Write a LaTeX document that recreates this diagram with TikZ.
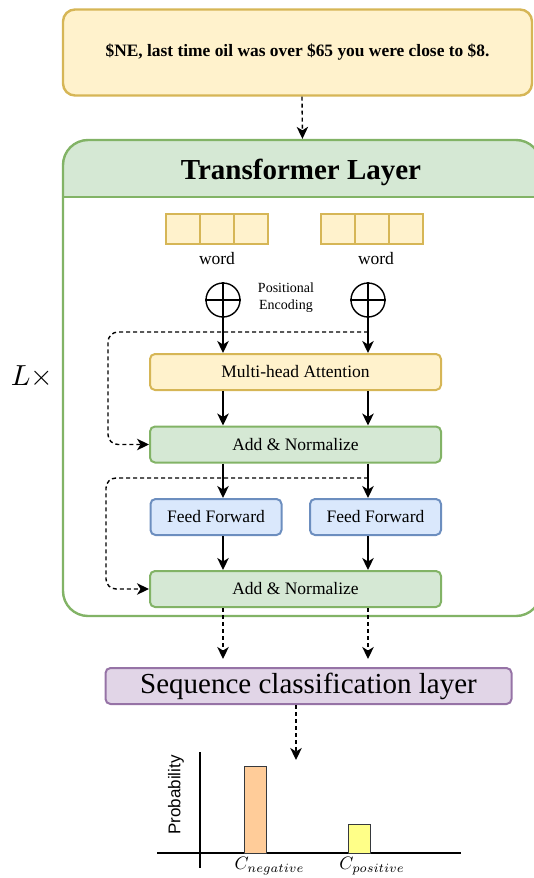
\documentclass[tikz,border=0pt]{standalone}
\usepackage{graphicx}
\usepackage{fontspec}
\setmainfont{Liberation Serif}
\newfontfamily\chartfont{Liberation Sans}
\usetikzlibrary{arrows.meta}

\definecolor{yelfill}{HTML}{FFF2CC}
\definecolor{yelline}{HTML}{D6B656}
\definecolor{grnfill}{HTML}{D5E8D4}
\definecolor{grnline}{HTML}{82B366}
\definecolor{blufill}{HTML}{DAE8FC}
\definecolor{bluline}{HTML}{6C8EBF}
\definecolor{purfill}{HTML}{E1D5E7}
\definecolor{purline}{HTML}{9673A6}
\definecolor{barline}{HTML}{36393D}
\definecolor{negfill}{HTML}{FFCC99}
\definecolor{posfill}{HTML}{FFFF88}

\tikzset{
  box/.style={draw, rounded corners=5pt, line width=2pt, minimum height=36pt,
    inner sep=0pt, font=\fontsize{17.5}{20}\selectfont},
  yelbox/.style={box, fill=yelfill, draw=yelline},
  grnbox/.style={box, fill=grnfill, draw=grnline},
  blubox/.style={box, fill=blufill, draw=bluline},
  cell/.style={draw=yelline, fill=yelfill, line width=1.3pt, minimum width=34pt,
    minimum height=30pt, inner sep=0pt},
  arr/.style={-{Stealth[length=12pt, width=11.5pt, inset=3.5pt]}, line width=1.4pt},
  dasharr/.style={arr, dash pattern=on 4pt off 3pt},
  resid/.style={dasharr, rounded corners=10pt},
}

\begin{document}
\begin{tikzpicture}[x=1pt, y=-1pt]
  \useasboundingbox (0,0) rectangle (534,878);

  % input sentence
  \node[draw=yelline, fill=yelfill, line width=2.4pt, rounded corners=12pt,
    minimum width=469pt, minimum height=86pt, font=\fontsize{17.4}{20}\selectfont\bfseries]
    (sent) at (297.5,52.5) {\$NE, last time oil was over \$65 you were close to \$8.};

  % transformer layer frame with its header
  \begin{scope}
    \clip[rounded corners=25pt] (63,140) rectangle (541,616);
    \fill[grnfill] (63,140) rectangle (541,197);
  \end{scope}
  \node[draw=grnline, line width=2.4pt, rounded corners=25pt, minimum width=478pt,
    minimum height=476pt] (layer) at (302,378) {};
  \draw[grnline, line width=2.4pt] (layer.west |- 0,197) -- (layer.east |- 0,197);
  \node[font=\fontsize{29}{30}\selectfont\bfseries] (title) at (301,172) {Transformer Layer};
  \node (rep) at (32,377) {\scalebox{2.9}{$L\times$}};

  % word vectors
  \node[cell] (wl1) at (183,229) {};
  \node[cell] (wl2) at (217,229) {};
  \node[cell] (wl3) at (251,229) {};
  \node[cell] (wr1) at (338,229) {};
  \node[cell] (wr2) at (372,229) {};
  \node[cell] (wr3) at (406,229) {};
  \node[font=\fontsize{17.5}{20}\selectfont] (wordl) at (217,259) {word};
  \node[font=\fontsize{17.5}{20}\selectfont] (wordr) at (376,259) {word};

  % positional encoding
  \node[circle, draw, line width=1.4pt, minimum size=34pt, inner sep=0pt] (pe1) at (223,300) {};
  \node[circle, draw, line width=1.4pt, minimum size=34pt, inner sep=0pt] (pe2) at (368,300) {};
  \draw[line width=1.4pt] (pe1.north) -- (pe1.south) (pe1.west) -- (pe1.east);
  \draw[line width=1.4pt] (pe2.north) -- (pe2.south) (pe2.west) -- (pe2.east);
  \node[align=center, font=\fontsize{14}{17}\selectfont] (posenc) at (286,298) {Positional\\Encoding};

  % encoder blocks
  \node[yelbox, minimum width=291pt] (mha) at (295.5,372) {Multi-head Attention};
  \node[grnbox, minimum width=291pt] (an1) at (295.5,444.5) {Add \& Normalize};
  \node[blubox, minimum width=131pt] (ff1) at (216,517) {Feed Forward};
  \node[blubox, minimum width=131pt] (ff2) at (375.5,517) {Feed Forward};
  \node[grnbox, minimum width=291pt] (an2) at (295.5,589) {Add \& Normalize};

  % classifier
  \node[draw=purline, fill=purfill, line width=2pt, rounded corners=5pt, inner sep=0pt,
    minimum width=406pt, minimum height=36pt, font=\fontsize{29}{30}\selectfont]
    (seq) at (308.5,686) {Sequence classification layer};

  % flow
  \draw[dasharr] ([xshift=4.5pt]sent.south) -- ([xshift=0.5pt]layer.north);
  \draw[arr] (pe1.south) -- (pe1 |- mha.north);
  \draw[arr] (pe2.south) -- (pe2 |- mha.north);
  \draw[arr] (mha.south -| pe1) -- (an1.north -| pe1);
  \draw[arr] (mha.south -| pe2) -- (an1.north -| pe2);
  \draw[arr] (an1.south -| pe1) -- (ff1.north -| pe1);
  \draw[arr] (an1.south -| pe2) -- (ff2.north -| pe2);
  \draw[arr] (ff1.south -| pe1) -- (an2.north -| pe1);
  \draw[arr] (ff2.south -| pe2) -- (an2.north -| pe2);

  % residual connections
  \coordinate (r1) at (368,332);
  \coordinate (r2) at (368,478);
  \draw[resid] (r1) -- ++(-260,0) |- (an1.west);
  \draw[resid] (r2) -- ++(-262,0) |- (an2.west);

  \draw[dasharr, shorten >=8pt] (an2.south -| pe1) -- (seq.north -| pe1);
  \draw[dasharr, shorten >=8pt] (an2.south -| pe2) -- (seq.north -| pe2);
  \coordinate (chart) at (296,760);
  \draw[dasharr] (seq.south -| chart) -- (chart);

  % output probabilities
  \draw[line width=1.2pt] (157,853) -- (461,853);
  \draw[line width=1.2pt] (200,752) -- (200,868);
  \draw[draw=barline, fill=negfill, line width=1pt] (244,853) rectangle (266,766);
  \draw[draw=barline, fill=posfill, line width=1pt] (348,853) rectangle (370,824);
  \node[rotate=90, font=\fontsize{17}{18}\chartfont] (prob) at (176,795) {Probability};
  \node (cneg) at (269.5,866) {\scalebox{1.8}{$C_{negative}$}};
  \node (cpos) at (372,866) {\scalebox{1.8}{$C_{positive}$}};
\end{tikzpicture}
\end{document}
